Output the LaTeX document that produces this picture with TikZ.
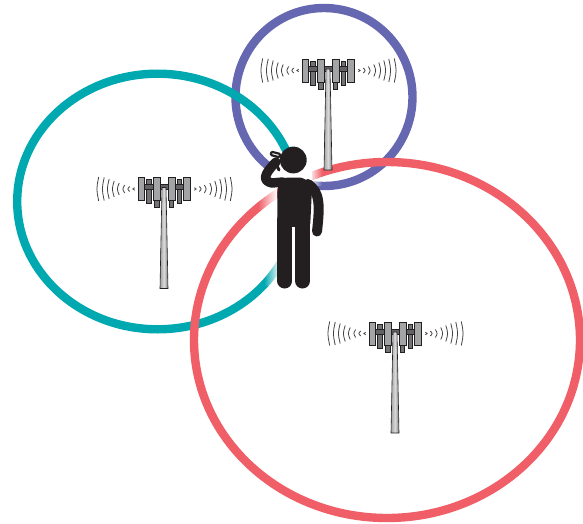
\documentclass[tikz,border=0pt]{standalone}
\usepackage{tikz}
\usetikzlibrary{fadings}
\definecolor{cellblue}{HTML}{6567B0}
\definecolor{cellteal}{HTML}{00A9B0}
\definecolor{cellred}{HTML}{F05F68}
\definecolor{figblack}{HTML}{231F20}
\definecolor{panelgrey}{HTML}{A3A4A6}
\tikzset{
  cellring/.style={line width=8.4pt},
  panel/.style={draw=figblack,line width=0.6pt,fill=panelgrey},
  wave/.style={draw=figblack!85,line width=0.8pt},
  figlimb/.style={draw=figblack,line cap=round,line join=round},
  fadeout/.style={fill=white,draw=none}
}
\newcommand{\celltower}[2]{
\begin{scope}[shift={(#1,#2)}]
\foreach \px/\pb in {-15.3/26,-7.2/30,7.2/30,15.3/26} {
\draw[panel,fill=panelgrey!70!black] (\px-2.1,2) rectangle (\px+2.1,\pb);
}
\draw[panel,fill=panelgrey!60!black] (-20,7) rectangle (20,12);
\draw[panel] (-25.7,0) rectangle (-19.3,23);
\draw[panel] (-10.7,0) rectangle (-4,23);
\draw[panel] (4.5,0) rectangle (11.2,23);
\draw[panel] (19.3,0) rectangle (26,23);
\draw[draw=figblack,line width=0.6pt,left color=panelgrey,right color=panelgrey!80!black,middle color=white!85!black] (-2,10) -- (2,10) -- (4,111) -- (-4,111) -- cycle;
\foreach \wx/\wh in {-66.5/12,-61/11.5,-56/10,-51/8,-46/6,-40.5/4,-35.5/2.5,-30.5/1.3} {
\draw[wave] (\wx+1.2,11.5-\wh) .. controls (\wx-1.2,11.5) .. (\wx+1.2,11.5+\wh);
}
\foreach \wx/\wh in {67.5/12,62/11.5,57/10,52/8,47/6,41.5/4,36.5/2.5,31.5/1.3} {
\draw[wave] (\wx-1.2,11.5-\wh) .. controls (\wx+1.2,11.5) .. (\wx-1.2,11.5+\wh);
}
\end{scope}
}

\begin{document}
\begin{tikzpicture}[x=1pt,y=-1pt]
\useasboundingbox (0,0) rectangle (583,524);

\draw[cellring,cellblue] (324,97) ellipse (88.5 and 89);
\draw[cellring,cellteal] (157.5,201.5) ellipse (140.3 and 127.8);
\draw[cellring,cellred] (387,340) ellipse (193 and 178);

\celltower{328}{59}
\celltower{164}{177.5}
\celltower{395}{322}

% fades next to the figure
\fill[fadeout,path fading=west] (258,182) rectangle (277,210);
\fill[fadeout,path fading=east] (309,160) rectangle (322,186);
\fill[fadeout,path fading=west] (264,256) rectangle (280,286);
\fill[fadeout] (268,168) rectangle (312,182);

% figure with phone
\fill[figblack] (293.3,160) circle (13.4);
\fill[figblack,rounded corners=7pt] (277.3,188) -- (281,177.5) -- (306,177.5) -- (312,188) -- (310,230) -- (277.3,230) -- cycle;
\draw[figlimb,line width=15pt,line cap=round] (284.8,220) -- (284.8,281);
\draw[figlimb,line width=15pt,line cap=round] (302.5,220) -- (302.5,281);
\fill[white] (292.3,227) rectangle (295,290);
\draw[figlimb,line width=10pt] (308,184) .. controls (320,192) and (320,205) .. (317,231.5);
\draw[figlimb,line width=9.5pt] (283,182) -- (272,183) .. controls (262,181) and (264,174) .. (276,162);
\draw[figlimb,line width=3pt] (274,160) -- (279,170);
\draw[draw=figblack,fill=white,line width=2.2pt,rounded corners=1pt,rotate around={-15:(275.5,154.5)}] (271,152.8) rectangle (280,156.2);
\end{tikzpicture}
\end{document}
